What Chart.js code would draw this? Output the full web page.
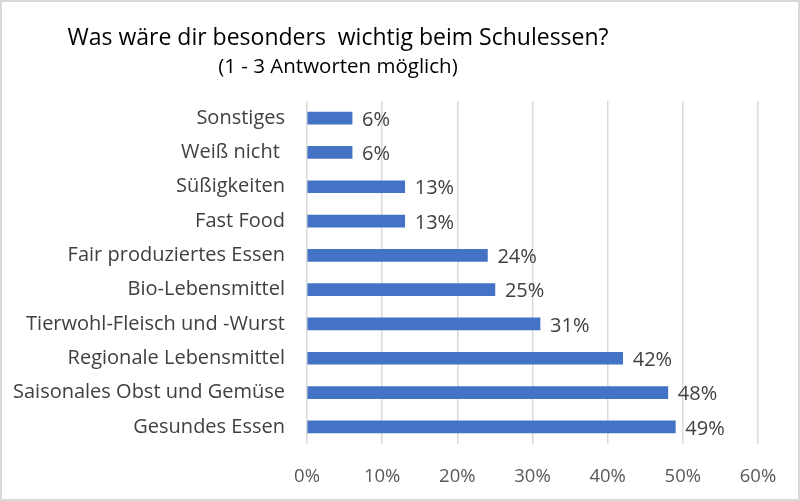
<!DOCTYPE html>
<html><head><meta charset="utf-8">
<script src="https://cdn.jsdelivr.net/npm/chart.js@4/dist/chart.umd.min.js"></script>
<style>html,body{margin:0;padding:0;background:#fff;}#wrap{width:800px;height:501px;position:relative;}</style>
</head><body><div id="wrap"><canvas id="c" width="800" height="501"></canvas></div>
<script>
const categories = ["Sonstiges","Weiß nicht ","Süßigkeiten","Fast Food","Fair produziertes Essen","Bio-Lebensmittel","Tierwohl-Fleisch und -Wurst","Regionale Lebensmittel","Saisonales Obst und Gemüse","Gesundes Essen"];
const values = [6,6,13,13,24,25,31,42,48,49];
const titleText = "Was wäre dir besonders  wichtig beim Schulessen?";
const subtitleText = "(1 - 3 Antworten möglich)";
const FONT = "'Open Sans', sans-serif";

const deco = {
  id:'deco',
  beforeDraw(chart){
    const ctx = chart.ctx;
    ctx.save();
    ctx.fillStyle='#fff';
    ctx.fillRect(0,0,chart.width,chart.height);
    ctx.restore();
  },
  afterDraw(chart){
    const ctx = chart.ctx;
    ctx.save();
    ctx.strokeStyle='#d9d9d9';
    ctx.lineWidth=2;
    ctx.strokeRect(1,1,chart.width-2,chart.height-2);
    ctx.fillStyle='#000';
    ctx.textAlign='center';
    ctx.textBaseline='middle';
    ctx.font="23px "+FONT;
    ctx.fillText(titleText,338,38);
    ctx.font="20.5px "+FONT;
    ctx.fillText(subtitleText,338,67);
    // value labels
    const meta = chart.getDatasetMeta(0);
    ctx.fillStyle='#404040';
    ctx.font="20px "+FONT;
    ctx.textAlign='left';
    meta.data.forEach((bar,i)=>{
      ctx.fillText(values[i]+'%', bar.x+10, bar.y+2);
    });
    ctx.restore();
  }
};

new Chart(document.getElementById('c'),{
  type:'bar',
  data:{labels:categories,datasets:[{data:values,backgroundColor:'#4472C4',borderWidth:0,barThickness:12}]},
  options:{
    indexAxis:'y',
    responsive:false,
    animation:false,
    layout:{padding:{top:101,right:42,left:0,bottom:0}},
    plugins:{legend:{display:false},tooltip:{enabled:false},title:{display:false}},
    scales:{
      x:{min:0,max:60,
        ticks:{stepSize:10,callback:v=>v+'%',color:'#595959',font:{family:FONT,size:18.5},padding:22},
        grid:{color:'#d9d9d9',lineWidth:1.5,drawTicks:false},
        border:{display:false},
        afterFit(s){s.height=57;}
      },
      y:{
        ticks:{color:'#404040',font:{family:FONT,size:20},padding:22},
        grid:{display:false,drawTicks:false},
        border:{display:false},
        afterFit(s){s.width=307;}
      }
    }
  },
  plugins:[deco]
});
</script></body></html>
